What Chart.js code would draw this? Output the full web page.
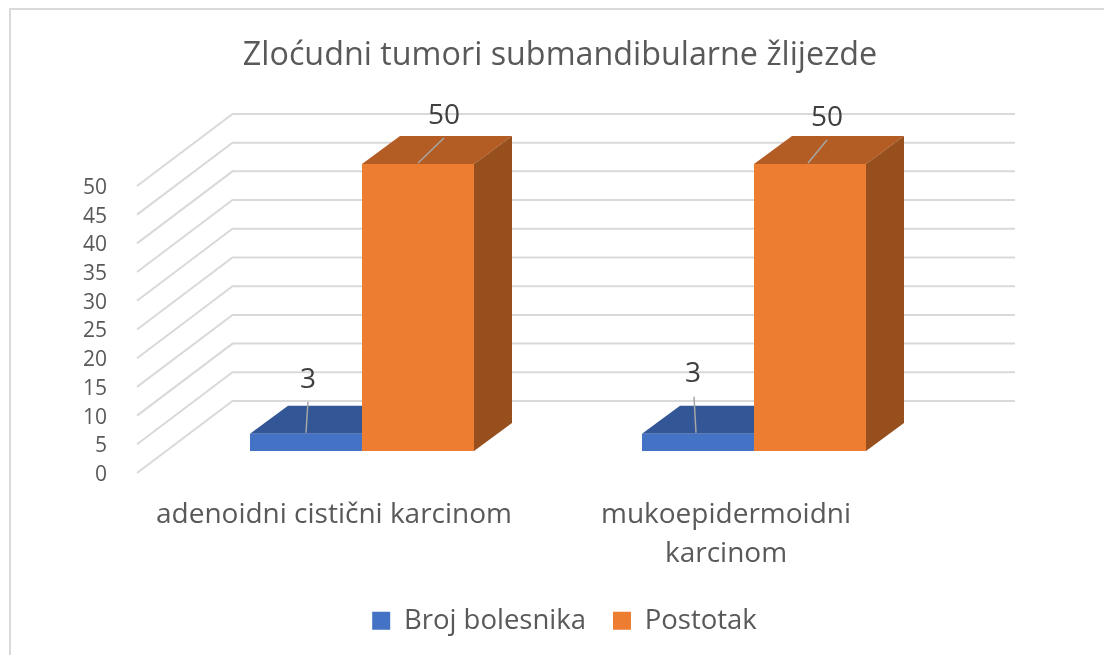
<!DOCTYPE html>
<html><head><meta charset="utf-8">
<style>
html,body{margin:0;padding:0;background:#fff;overflow:hidden}
#frame{position:absolute;left:9px;top:8px;width:1200px;height:670px;border:2px solid #d9d9d9}
#wrap{position:absolute;left:0;top:0;width:1104px;height:655px}
</style>
<script src="https://cdn.jsdelivr.net/npm/chart.js@4/dist/chart.umd.js"></script>
</head><body>
<div id="frame"></div>
<div id="wrap"><canvas id="c" width="1104" height="655"></canvas></div>
<script>
const titleText = 'Zloćudni tumori submandibularne žlijezde';
const categories = [['adenoidni cistični karcinom'], ['mukoepidermoidni', 'karcinom']];
const brojBolesnika = [3, 3];
const postotak = [50, 50];
const yTicks = [0, 5, 10, 15, 20, 25, 30, 35, 40, 45, 50];

const FONT = '"Open Sans"';
const DEPTH = {x: 38, y: 28};
const WALL = {frontX: 137, frontDy: 22, backX: 232.5, backDy: -50, rightX: 1015};
// per-bar leader end and label centre, relative to the bar's top centre
const leaders = [
  [{lx: 2, ly: -32, tx: 2, ty: -54, sx: 0}, {lx: -4, ly: -37, tx: -5, ty: -60, sx: -2}],
  [{lx: 26, ly: -26, tx: 26, ty: -48, sx: 0}, {lx: 17, ly: -24, tx: 17, ty: -46, sx: -2}]
];

const faces3d = {
  id: 'faces3d',
  afterLayout(chart) {
    const t = chart.titleBlock, l = chart.legend;
    t.left = 0; t.right = 1120;
    l.left = 0; l.right = 1129;
    const h = l.bottom - l.top;
    l.top = 580; l.bottom = 580 + h;
  },
  beforeDatasetsDraw(chart) {
    const {ctx, scales: {y}} = chart;
    ctx.save();
    ctx.strokeStyle = '#d9d9d9';
    ctx.lineWidth = 2;
    ctx.lineJoin = 'miter';
    yTicks.forEach(v => {
      const p = y.getPixelForValue(v);
      ctx.beginPath();
      ctx.moveTo(WALL.frontX, p + WALL.frontDy);
      ctx.lineTo(WALL.backX, p + WALL.backDy);
      ctx.lineTo(WALL.rightX, p + WALL.backDy);
      ctx.stroke();
    });
    const shades = [{top: '#335796', side: '#2f5290'}, {top: '#b35d24', side: '#964f1d'}];
    [0, 1].forEach(d => {
      chart.getDatasetMeta(d).data.forEach(b => {
        const L = b.x - b.width / 2, R = b.x + b.width / 2, T = b.y, B = b.base;
        ctx.fillStyle = shades[d].top;
        ctx.beginPath();
        ctx.moveTo(L, T); ctx.lineTo(L + DEPTH.x, T - DEPTH.y);
        ctx.lineTo(R + DEPTH.x, T - DEPTH.y); ctx.lineTo(R, T);
        ctx.closePath(); ctx.fill();
        ctx.fillStyle = shades[d].side;
        ctx.beginPath();
        ctx.moveTo(R, T); ctx.lineTo(R + DEPTH.x, T - DEPTH.y);
        ctx.lineTo(R + DEPTH.x, B - DEPTH.y); ctx.lineTo(R, B);
        ctx.closePath(); ctx.fill();
      });
    });
    ctx.restore();
  },
  afterDatasetsDraw(chart) {
    const {ctx} = chart;
    ctx.save();
    ctx.font = '28px ' + FONT;
    ctx.textAlign = 'center';
    ctx.textBaseline = 'middle';
    [0, 1].forEach(d => {
      const ds = chart.data.datasets[d];
      chart.getDatasetMeta(d).data.forEach((b, i) => {
        const o = leaders[d][i];
        ctx.strokeStyle = '#a6a6a6';
        ctx.lineWidth = 1.5;
        ctx.beginPath();
        ctx.moveTo(b.x + o.sx, b.y - 1);
        ctx.lineTo(b.x + o.lx, b.y + o.ly);
        ctx.stroke();
        ctx.fillStyle = '#404040';
        ctx.fillText(String(ds.data[i]), b.x + o.tx, b.y + o.ty);
      });
    });
    ctx.restore();
  }
};

new Chart(document.getElementById('c'), {
  type: 'bar',
  data: {
    labels: categories,
    datasets: [
      {label: 'Broj bolesnika', data: brojBolesnika, backgroundColor: '#4472c4', borderWidth: 0},
      {label: 'Postotak', data: postotak, backgroundColor: '#ed7d31', borderWidth: 0}
    ]
  },
  options: {
    responsive: false,
    animation: false,
    layout: {padding: {left: 0, right: 154, top: 0, bottom: 0}},
    datasets: {bar: {categoryPercentage: 224 / 392, barPercentage: 1}},
    plugins: {
      title: {
        display: true, text: titleText, color: '#595959', fullSize: true,
        font: {family: FONT, size: 32.3, weight: 'normal', lineHeight: 1.2},
        padding: {top: 36, bottom: 89.2}
      },
      legend: {
        display: true, position: 'bottom',
        labels: {color: '#595959', boxWidth: 18, boxHeight: 18, padding: 27,
          font: {family: FONT, size: 27.5}}
      },
      tooltip: {enabled: false}
    },
    scales: {
      x: {
        grid: {display: false}, border: {display: false},
        ticks: {color: '#595959', labelOffset: -28, padding: 37, maxRotation: 0, minRotation: 0, autoSkip: false,
          font: {family: FONT, size: 28, lineHeight: 1.39}},
        afterFit(s) { s.height = 139.5; }
      },
      y: {
        min: 0, max: 50,
        grid: {display: false}, border: {display: false},
        ticks: {color: '#595959', stepSize: 5, labelOffset: 24, padding: 51,
          font: {family: FONT, size: 21}},
        afterFit(s) { s.width = 166; }
      }
    }
  },
  plugins: [faces3d]
});
</script>
</body></html>
